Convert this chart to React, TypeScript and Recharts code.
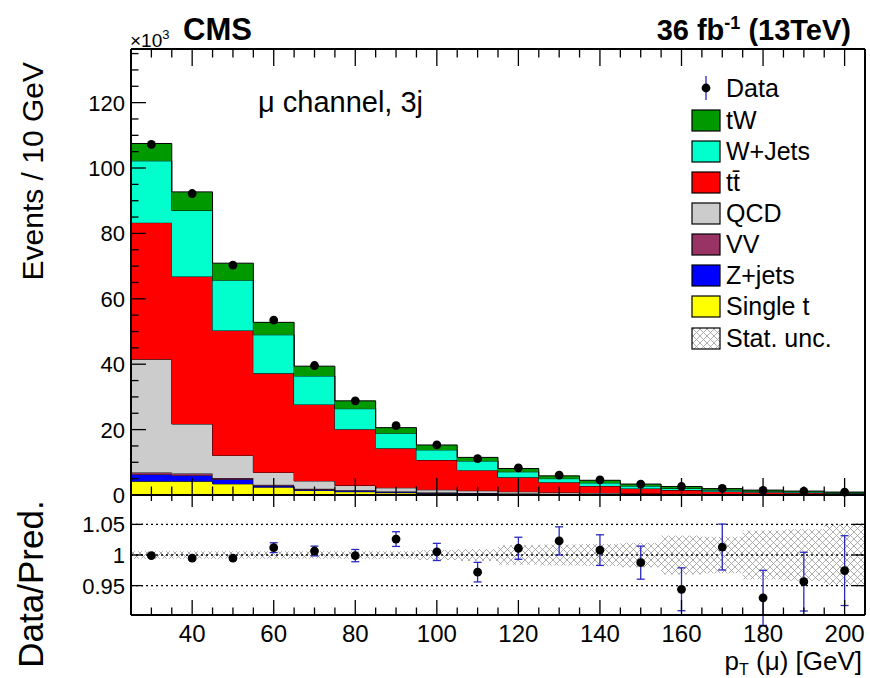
import React from "react";
import { ComposedChart, Area, Scatter, ErrorBar, XAxis, YAxis, ReferenceLine } from "recharts";

// pT(mu) bins, 10 GeV wide, values in units of 10^3 events
const binCenters = [30, 40, 50, 60, 70, 80, 90, 100, 110, 120, 130, 140, 150, 160, 170, 180, 190, 200];
const singleT = [4.2, 4.2, 3.4, 2.4, 1.4, 1.0, 0.7, 0.5, 0.4, 0.3, 0.22, 0.16, 0.12, 0.1, 0.08, 0.06, 0.05, 0.04];
const zJets = [2.1, 1.8, 1.4, 0.4, 0.3, 0.3, 0.25, 0.2, 0.15, 0.1, 0.08, 0.06, 0.05, 0.04, 0.03, 0.03, 0.02, 0.02];
const vv = [0.6, 0.6, 0.4, 0.3, 0.2, 0.15, 0.1, 0.1, 0.08, 0.06, 0.05, 0.04, 0.03, 0.03, 0.02, 0.02, 0.02, 0.01];
const qcd = [34.6, 15.1, 6.9, 3.8, 2.4, 1.45, 1.15, 0.8, 0.67, 0.54, 0.45, 0.34, 0.25, 0.18, 0.17, 0.14, 0.11, 0.08];
const ttbar = [41.8, 45.1, 38.2, 30.3, 23.4, 17.2, 12.1, 9.1, 6.3, 4.4, 3.1, 2.15, 1.55, 1.15, 0.8, 0.6, 0.45, 0.35];
const wJets = [18.9, 20.2, 15.4, 11.8, 8.7, 6.3, 4.6, 3.1, 2.8, 1.7, 1.1, 0.95, 0.75, 0.5, 0.4, 0.3, 0.25, 0.2];
const tW = [5.3, 5.7, 5.2, 3.8, 3.0, 2.4, 1.7, 1.5, 1.1, 1.0, 0.85, 0.8, 0.6, 0.6, 0.45, 0.35, 0.3, 0.2];
const dataCounts = [107.2, 92.2, 70.3, 53.5, 39.6, 28.8, 21.2, 15.3, 11.1, 8.3, 6.1, 4.6, 3.3, 2.6, 2.0, 1.4, 1.15, 0.88];

const ratioValues = [0.999, 0.995, 0.995, 1.012, 1.0065, 0.999, 1.026, 1.005, 0.972, 1.011, 1.023, 1.008, 0.9875, 0.944, 1.013, 0.93, 0.9565, 0.9745];
const ratioErrors = [0.002, 0.003, 0.003, 0.008, 0.008, 0.01, 0.012, 0.014, 0.016, 0.018, 0.023, 0.025, 0.027, 0.035, 0.0375, 0.045, 0.048, 0.057];
const statUnc = [0.006, 0.006, 0.006, 0.006, 0.006, 0.006, 0.006, 0.008, 0.01, 0.016, 0.017, 0.018, 0.02, 0.032, 0.03, 0.04, 0.042, 0.05];

const xMajorTicks = [40, 60, 80, 100, 120, 140, 160, 180, 200];
const yMajorTicks = [0, 20, 40, 60, 80, 100, 120];
const ratioTicks = [0.95, 1, 1.05];

const X_DOMAIN: [number, number] = [25, 205];
const Y_DOMAIN: [number, number] = [0, 136.4];
const R_DOMAIN: [number, number] = [0.902, 1.098];
const FONT = "'Liberation Sans', Arial, Helvetica, sans-serif";

// legend order, top to bottom; stack is drawn bottom-up so reversed
const series = [
  { key: "tW", label: "tW", color: "#009a00", values: tW },
  { key: "wJets", label: "W+Jets", color: "#00ffcc", values: wJets },
  { key: "ttbar", label: "tt\u0304", color: "#ff0000", values: ttbar },
  { key: "qcd", label: "QCD", color: "#cccccc", values: qcd },
  { key: "vv", label: "VV", color: "#993366", values: vv },
  { key: "zJets", label: "Z+jets", color: "#0000ff", values: zJets },
  { key: "singleT", label: "Single t", color: "#ffff00", values: singleT },
];

const last = binCenters.length - 1;
const edges = binCenters.map((c) => c - 5).concat([binCenters[last] + 5]);
const stackRows = edges.map((x, i) => {
  const k = Math.min(i, last);
  const row: Record<string, any> = { x, band: [1 - statUnc[k], 1 + statUnc[k]] };
  series.forEach((s) => (row[s.key] = s.values[k]));
  return row;
});
const dataPoints = binCenters.map((x, i) => ({ x, y: dataCounts[i] }));
const ratioPoints = binCenters.map((x, i) => ({ x, y: ratioValues[i], err: ratioErrors[i] }));

const xTicks = Array.from({ length: 35 }, (_, i) => 30 + 5 * i);
const yTicks = Array.from({ length: 28 }, (_, i) => 5 * i);

const xTick = (dir: number, major: number, minor: number, labels: boolean) => (p: any) => {
  const isMajor = xMajorTicks.includes(p.payload.value);
  return (
    <g>
      <line x1={p.x} x2={p.x} y1={p.y} y2={p.y + dir * (isMajor ? major : minor)} stroke="#000" strokeWidth={1.3} />
      {labels && isMajor && (
        <text x={p.x} y={p.y + 27} textAnchor="middle" fontSize={24} fill="#000">
          {p.payload.value}
        </text>
      )}
    </g>
  );
};

const yTick = (dir: number, majors: number[], major: number, minor: number, labels: boolean) => (p: any) => {
  const v = p.payload.value;
  const isMajor = majors.some((m) => Math.abs(m - v) < 1e-6);
  return (
    <g>
      <line x1={p.x} x2={p.x + dir * (isMajor ? major : minor)} y1={p.y} y2={p.y} stroke="#000" strokeWidth={1.3} />
      {labels && isMajor && (
        <text x={p.x - 6} y={p.y + 8} textAnchor="end" fontSize={22} fill="#000">
          {v}
        </text>
      )}
    </g>
  );
};

const frame = { stroke: "#000", strokeWidth: 2 };

function MainPanel() {
  return (
    <ComposedChart width={870} height={520} data={stackRows} margin={{ top: 48, right: 0, bottom: 24, left: 71 }}>
      <XAxis dataKey="x" type="number" domain={X_DOMAIN} ticks={xTicks} interval={0} tickSize={0} tickMargin={0} tickLine={false} height={1} axisLine={frame} tick={xTick(-1, 17, 8.5, false)} />
      <XAxis xAxisId="top" orientation="top" dataKey="x" type="number" domain={X_DOMAIN} ticks={xTicks} interval={0} tickSize={0} tickMargin={0} tickLine={false} height={1} axisLine={frame} tick={xTick(1, 17, 8.5, false)} />
      <YAxis type="number" domain={Y_DOMAIN} ticks={yTicks} interval={0} tickSize={0} tickMargin={0} tickLine={false} width={60} axisLine={frame} tick={yTick(1, yMajorTicks, 15, 7.5, true)} />
      <YAxis yAxisId="right" orientation="right" type="number" domain={Y_DOMAIN} ticks={yTicks} interval={0} tickSize={0} tickMargin={0} tickLine={false} width={5} axisLine={frame} tick={yTick(-1, yMajorTicks, 15, 7.5, false)} />
      {[...series].reverse().map((s) => (
        <Area key={s.key} dataKey={s.key} stackId="mc" type="stepAfter" fill={s.color} fillOpacity={1} stroke="#000" strokeWidth={1} dot={false} activeDot={false} isAnimationActive={false} />
      ))}
      <Scatter data={dataPoints} dataKey="y" fill="#000" shape={(p: any) => <circle cx={p.cx} cy={p.cy} r={4.4} fill="#000" />} isAnimationActive={false} />
    </ComposedChart>
  );
}

function RatioPanel() {
  return (
    <ComposedChart width={870} height={188} data={stackRows} margin={{ top: 4, right: 0, bottom: 23, left: 71 }}>
      <defs>
        <pattern id="hatchBand" width="7" height="7" patternUnits="userSpaceOnUse">
          <path d="M0,0 L7,7 M7,0 L0,7" stroke="#9a9a9a" strokeWidth="0.8" />
        </pattern>
      </defs>
      <XAxis dataKey="x" type="number" domain={X_DOMAIN} ticks={xTicks} interval={0} tickSize={0} tickMargin={0} tickLine={false} height={40} axisLine={frame} tick={xTick(-1, 15, 7.5, true)} />
      <XAxis xAxisId="top" orientation="top" dataKey="x" type="number" domain={X_DOMAIN} ticks={xTicks} interval={0} tickSize={0} tickMargin={0} tickLine={false} height={1} axisLine={frame} tick={xTick(1, 12, 6, false)} />
      <YAxis type="number" domain={R_DOMAIN} allowDataOverflow ticks={ratioTicks} interval={0} tickSize={0} tickMargin={0} tickLine={false} width={60} axisLine={frame} tick={yTick(1, ratioTicks, 12, 6, true)} />
      <YAxis yAxisId="right" orientation="right" type="number" domain={R_DOMAIN} allowDataOverflow ticks={ratioTicks} interval={0} tickSize={0} tickMargin={0} tickLine={false} width={5} axisLine={frame} tick={yTick(-1, ratioTicks, 12, 6, false)} />
      <Area dataKey="band" type="stepAfter" fill="url(#hatchBand)" fillOpacity={1} stroke="none" dot={false} activeDot={false} isAnimationActive={false} />
      {ratioTicks.map((v) => (
        <ReferenceLine key={v} y={v} stroke="#000" strokeWidth={1.4} strokeDasharray="2 3" />
      ))}
      <Scatter data={ratioPoints} dataKey="y" fill="#000" shape={(p: any) => <circle cx={p.cx} cy={p.cy} r={4.4} fill="#000" />} isAnimationActive={false}>
        <ErrorBar dataKey="err" direction="y" width={4} stroke="#2929c0" strokeWidth={1.3} isAnimationActive={false} />
      </Scatter>
    </ComposedChart>
  );
}

function Overlay() {
  const rowY = [120, 151, 182, 213, 244, 275, 306];
  return (
    <svg width={870} height={678} style={{ position: "absolute", left: 0, top: 0, pointerEvents: "none" }} fontFamily={FONT}>
      <defs>
        <pattern id="hatchLegend" width="7" height="7" patternUnits="userSpaceOnUse">
          <path d="M0,0 L7,7 M7,0 L0,7" stroke="#9a9a9a" strokeWidth="0.8" />
        </pattern>
      </defs>
      <text x={130} y={47} fontSize={19}>
        ×10<tspan dy={-8} fontSize={13}>3</tspan>
      </text>
      <text x={183} y={40} fontSize={31} fontWeight="bold">CMS</text>
      <text x={851} y={40} fontSize={29} fontWeight="bold" textAnchor="end">
        36 fb<tspan dy={-11} fontSize={18}>-1</tspan>
        <tspan dy={11}> (13TeV)</tspan>
      </text>
      <text x={258} y={112} fontSize={29}>μ channel, 3j</text>
      <text transform="translate(43,62) rotate(-90)" textAnchor="end" fontSize={30}>Events / 10 GeV</text>
      <text transform="translate(43,584) rotate(-90)" textAnchor="middle" fontSize={35}>Data/Pred.</text>
      <text x={862} y={670} textAnchor="end" fontSize={26}>
        p<tspan dy={5} fontSize={16}>T</tspan>
        <tspan dy={-5}> (μ) [GeV]</tspan>
      </text>
      <line x1={706} x2={706} y1={76} y2={100} stroke="#2929c0" strokeWidth={1.3} />
      <circle cx={706} cy={88} r={4.4} fill="#000" />
      <text x={726} y={97} fontSize={25}>Data</text>
      {series.map((s, i) => (
        <g key={s.key}>
          <rect x={692} y={rowY[i] - 10} width={28} height={21} fill={s.color} stroke="#000" strokeWidth={1.2} />
          <text x={726} y={rowY[i] + 9} fontSize={25}>{s.label}</text>
        </g>
      ))}
      <rect x={692} y={328} width={28} height={21} fill="url(#hatchLegend)" stroke="#000" strokeWidth={1.2} />
      <text x={726} y={347} fontSize={25}>Stat. unc.</text>
    </svg>
  );
}

export default function App() {
  return (
    <div style={{ position: "absolute", left: 0, top: 0, width: 870, height: 678, background: "#fff", fontFamily: FONT }}>
      <div style={{ position: "absolute", left: 0, top: 0 }}>
        <MainPanel />
      </div>
      <div style={{ position: "absolute", left: 0, top: 490 }}>
        <RatioPanel />
      </div>
      <Overlay />
    </div>
  );
}
